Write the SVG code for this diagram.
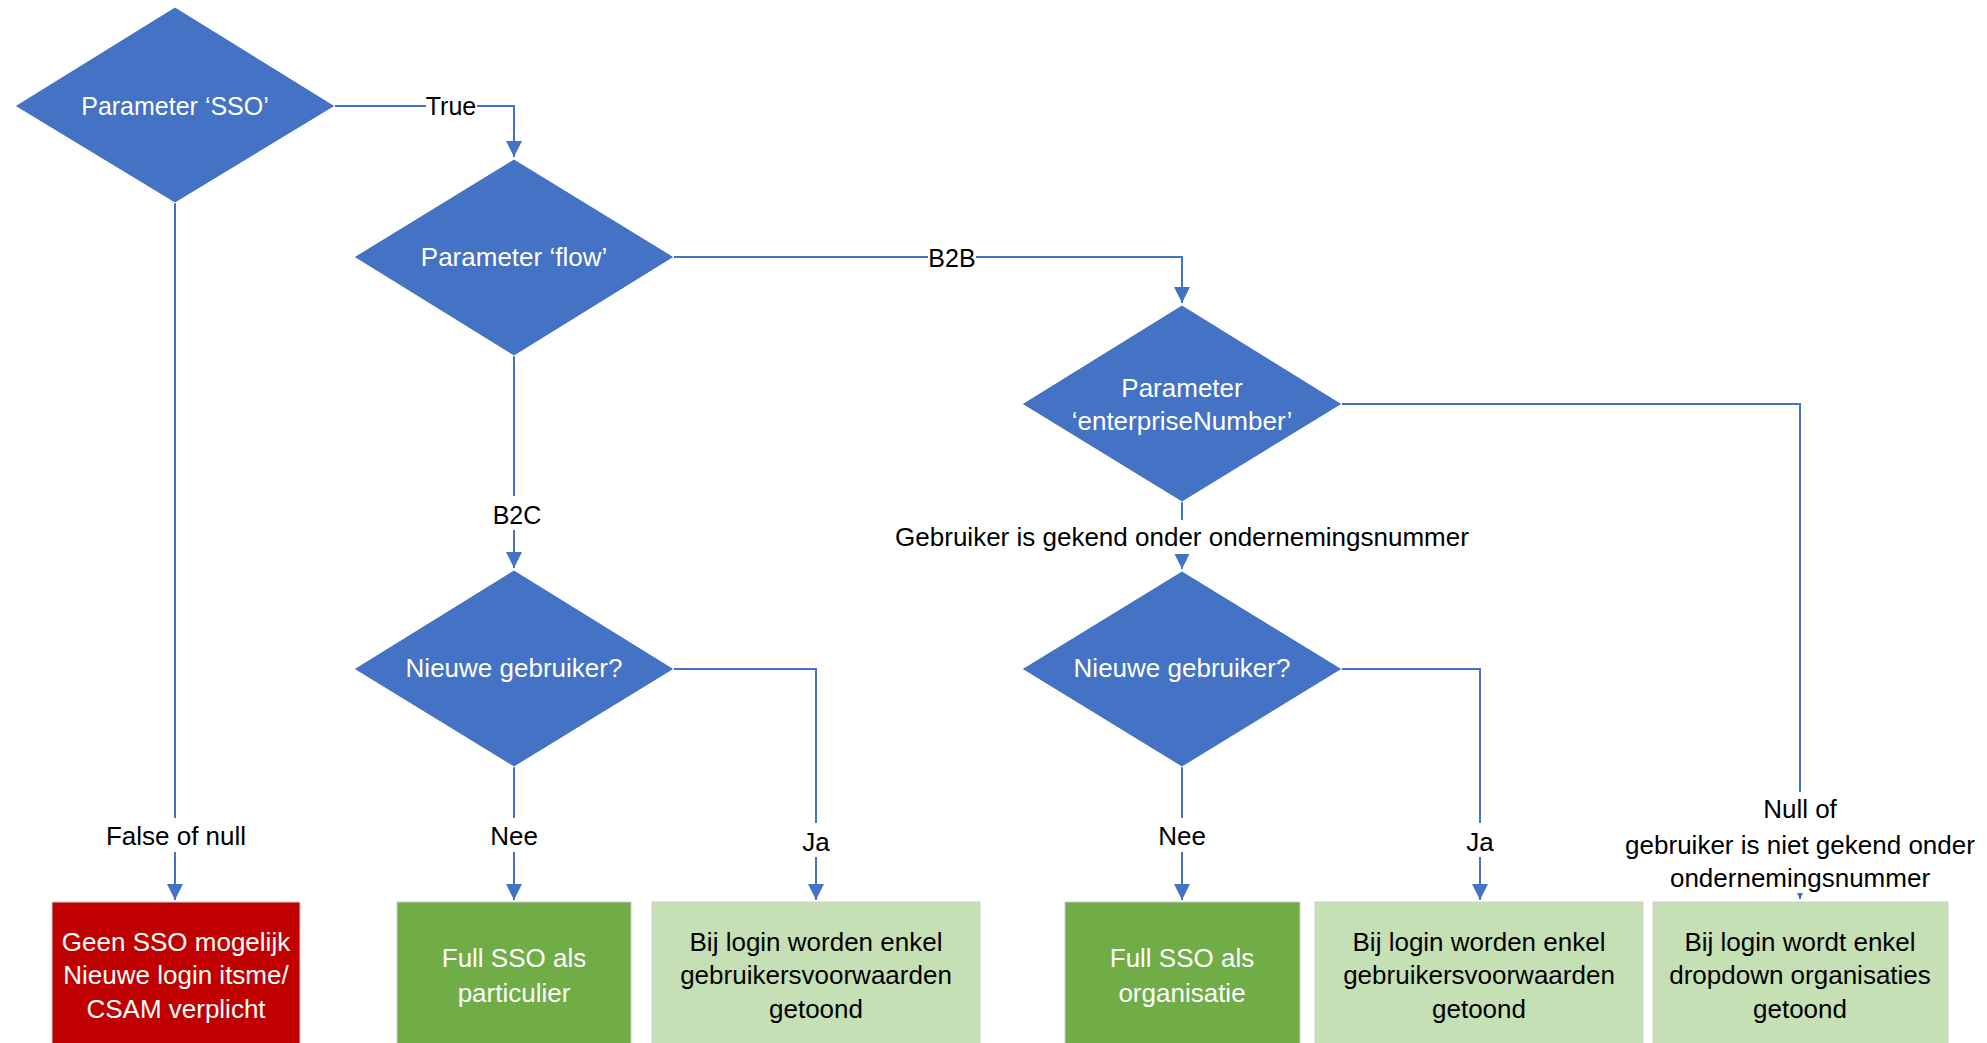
<svg xmlns="http://www.w3.org/2000/svg" width="1987" height="1043" viewBox="0 0 1987 1043">
<defs>
<style>
text{font-family:"Liberation Sans",Arial,sans-serif;font-size:26px;text-anchor:middle}
.sm{font-size:25px}
.dia{fill:#4472C4;stroke:#ffffff;stroke-width:1}
.wt{fill:#ffffff}
.bk{fill:#000000}
.ln{fill:none;stroke:#4472C4;stroke-width:2}
.lbg{fill:#ffffff}
.red{fill:#C00000;stroke:#d0d0d0;stroke-width:1}
.dg{fill:#70AD47;stroke:#d0d0d0;stroke-width:1}
.lg{fill:#C5E0B4;stroke:#d0d0d0;stroke-width:1}
</style>
<marker id="ah" markerWidth="8" markerHeight="8" refX="8" refY="4" orient="auto" markerUnits="strokeWidth"><path d="M0,0 L8,4 L0,8 z" fill="#4472C4"/></marker>
</defs>
<rect width="1987" height="1043" fill="#ffffff"/>
<g id="connectors">
<path class="ln" d="M335,106 H514 V157" marker-end="url(#ah)"/>
<path class="ln" d="M674,257 H1182 V303" marker-end="url(#ah)"/>
<path class="ln" d="M514,356 V568" marker-end="url(#ah)"/>
<path class="ln" d="M1182,502 V569" marker-end="url(#ah)"/>
<path class="ln" d="M1342,404 H1800 V899" marker-end="url(#ah)"/>
<path class="ln" d="M175,203 V900" marker-end="url(#ah)"/>
<path class="ln" d="M514,767 V900" marker-end="url(#ah)"/>
<path class="ln" d="M674,669 H816 V900" marker-end="url(#ah)"/>
<path class="ln" d="M1182,767 V900" marker-end="url(#ah)"/>
<path class="ln" d="M1342,669 H1480 V900" marker-end="url(#ah)"/>
<rect class="lbg" x="426" y="92" width="51" height="28"/>
<text class="bk sm" x="451" y="115">True</text>
<rect class="lbg" x="928" y="244" width="48" height="28"/>
<text class="bk sm" x="952" y="267">B2B</text>
<rect class="lbg" x="494" y="496" width="46" height="34"/>
<text class="bk sm" x="517" y="524">B2C</text>
<rect class="lbg" x="890" y="520" width="584" height="34"/>
<text class="bk" x="1182" y="546">Gebruiker is gekend onder ondernemingsnummer</text>
<rect class="lbg" x="100" y="818" width="152" height="34"/>
<text class="bk" x="176" y="845">False of null</text>
<rect class="lbg" x="490" y="818" width="48" height="34"/>
<text class="bk" x="514" y="845">Nee</text>
<rect class="lbg" x="800" y="823" width="32" height="34"/>
<text class="bk" x="816" y="851">Ja</text>
<rect class="lbg" x="1158" y="818" width="48" height="34"/>
<text class="bk" x="1182" y="845">Nee</text>
<rect class="lbg" x="1464" y="823" width="32" height="34"/>
<text class="bk" x="1480" y="851">Ja</text>
<rect class="lbg" x="1616" y="792" width="368" height="101"/>
<text class="bk" x="1800" y="818">Null of</text>
<text class="bk" x="1800" y="854">gebruiker is niet gekend onder</text>
<text class="bk" x="1800" y="887">ondernemingsnummer</text>
</g>
<g id="sso">
<polygon class="dia" points="175,7 335,106 175,203 15,106"/>
<text class="wt sm" x="175" y="115">Parameter ‘SSO’</text>
</g>
<g id="flow">
<polygon class="dia" points="514,159 674,257 514,356 354,257"/>
<text class="wt" x="514" y="266">Parameter ‘flow’</text>
</g>
<g id="enterprise">
<polygon class="dia" points="1182,305 1342,404 1182,502 1022,404"/>
<text class="wt" x="1182" y="397">Parameter</text>
<text class="wt" x="1182" y="430">‘enterpriseNumber’</text>
</g>
<g id="nieuw1">
<polygon class="dia" points="514,570 674,669 514,767 354,669"/>
<text class="wt" x="514" y="677">Nieuwe gebruiker?</text>
</g>
<g id="nieuw2">
<polygon class="dia" points="1182,571 1342,669 1182,767 1022,669"/>
<text class="wt" x="1182" y="677">Nieuwe gebruiker?</text>
</g>
<g id="geen">
<rect class="red" x="52" y="902" width="248" height="160"/>
<text class="wt" x="176" y="951">Geen SSO mogelijk</text>
<text class="wt" x="176" y="984">Nieuwe login itsme/</text>
<text class="wt" x="176" y="1018">CSAM verplicht</text>
</g>
<g id="full1">
<rect class="dg" x="397" y="902" width="234" height="160"/>
<text class="wt" x="514" y="967">Full SSO als</text>
<text class="wt" x="514" y="1002">particulier</text>
</g>
<g id="voorw1">
<rect class="lg" x="652" y="902" width="328" height="160"/>
<text class="bk" x="816" y="951">Bij login worden enkel</text>
<text class="bk" x="816" y="984">gebruikersvoorwaarden</text>
<text class="bk" x="816" y="1018">getoond</text>
</g>
<g id="full2">
<rect class="dg" x="1065" y="902" width="235" height="160"/>
<text class="wt" x="1182" y="967">Full SSO als</text>
<text class="wt" x="1182" y="1002">organisatie</text>
</g>
<g id="voorw2">
<rect class="lg" x="1315" y="902" width="328" height="160"/>
<text class="bk" x="1479" y="951">Bij login worden enkel</text>
<text class="bk" x="1479" y="984">gebruikersvoorwaarden</text>
<text class="bk" x="1479" y="1018">getoond</text>
</g>
<g id="dropdown">
<rect class="lg" x="1653" y="902" width="295" height="160"/>
<text class="bk" x="1800" y="951">Bij login wordt enkel</text>
<text class="bk" x="1800" y="984">dropdown organisaties</text>
<text class="bk" x="1800" y="1018">getoond</text>
</g>
</svg>
